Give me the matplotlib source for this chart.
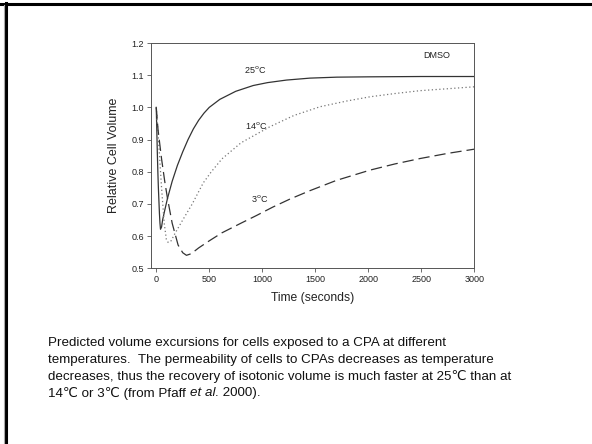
import matplotlib
matplotlib.use('Agg')
import matplotlib.pyplot as plt
from matplotlib.lines import Line2D
from matplotlib.transforms import offset_copy

plt.rcParams['font.family'] = ['Liberation Sans', 'DejaVu Sans']

# values (time in seconds, relative volume)
t_25 = [0, 5, 10, 15, 20, 25, 30, 35, 40, 50, 60, 80, 106, 150, 200, 250, 300,
        350, 400, 450, 500, 600, 750, 915, 1050, 1230, 1450, 1703, 2000, 2500, 3000]
v_25 = [1.0, 0.93, 0.86, 0.80, 0.75, 0.71, 0.67, 0.64, 0.621, 0.628, 0.65, 0.68,
        0.717, 0.77, 0.82, 0.862, 0.9, 0.933, 0.96, 0.982, 1.0, 1.025, 1.05,
        1.068, 1.077, 1.085, 1.091, 1.094, 1.095, 1.096, 1.096]

t_14 = [0, 25, 50, 75, 95, 112, 140, 180, 250, 340, 443, 520, 620, 800, 1073,
        1300, 1545, 1800, 2018, 2250, 2490, 2750, 3000]
v_14 = [1.0, 0.88, 0.75, 0.64, 0.59, 0.58, 0.585, 0.61, 0.65, 0.70, 0.765, 0.80,
        0.84, 0.89, 0.94, 0.975, 1.002, 1.02, 1.033, 1.043, 1.052, 1.058, 1.064]

t_3 = [0, 17, 50, 80, 106, 150, 206, 250, 285, 330, 400, 500, 620, 800, 947,
       1100, 1262, 1450, 1700, 2018, 2250, 2490, 2750, 3000]
v_3 = [1.0, 0.93, 0.84, 0.77, 0.717, 0.64, 0.572, 0.548, 0.54, 0.545, 0.563,
       0.585, 0.61, 0.64, 0.664, 0.69, 0.715, 0.741, 0.773, 0.805, 0.824, 0.841,
       0.857, 0.87]

curve_labels = ['25$^{\\rm o}$C', '14$^{\\rm o}$C', '3$^{\\rm o}$C']
label_pos = [(930, 1.118), (947, 0.945), (978, 0.716)]

fig = plt.figure(figsize=(5.92, 4.44), dpi=100)
ax = fig.add_axes([0.255, 0.396, 0.546, 0.507])

ax.plot(t_25, v_25, color='#333333', lw=0.9, ls='-')
ax.plot(t_14, v_14, color='#777777', lw=0.9, ls=(0, (1, 2)))
ax.plot(t_3, v_3, color='#333333', lw=0.9, ls=(0, (9, 4)))

for lab, (x, y) in zip(curve_labels, label_pos):
    ax.text(x, y, lab, fontsize=6.5, ha='center', va='center', color='#222222')
ax.text(2650, 1.16, 'DMSO', fontsize=6.5, ha='center', va='center', color='#222222')

ax.set_xlim(-50, 3000)
ax.set_ylim(0.5, 1.2)
ax.set_xticks([0, 500, 1000, 1500, 2000, 2500, 3000])
ax.set_yticks([0.5, 0.6, 0.7, 0.8, 0.9, 1.0, 1.1, 1.2])
ax.set_yticklabels(['0.5', '0.6', '0.7', '0.8', '0.9', '1.0', '1.1', '1.2'])
ax.tick_params(labelsize=6.5, length=3, width=0.6, color='#555555', pad=2,
               labelcolor='#222222')
for s in ax.spines.values():
    s.set_linewidth(0.7)
    s.set_color('#555555')

ax.set_xlabel('Time (seconds)', fontsize=8.7, color='#222222', labelpad=6)
ax.set_ylabel('Relative Cell Volume', fontsize=9, color='#222222', labelpad=8)

caption = [
    'Predicted volume excursions for cells exposed to a CPA at different',
    'temperatures.  The permeability of cells to CPAs decreases as temperature',
    'decreases, thus the recovery of isotonic volume is much faster at 25\u2103 than at',
]
cap_x = 48 / 592
cap_fs = 9.6
for i, line in enumerate(caption):
    fig.text(cap_x, 1 - (343 + i * 16.7) / 444, line, fontsize=cap_fs,
             ha='left', va='center', color='#111111')

# last line has italic "et al." -> draw in pieces
y_last = 1 - (343 + 3 * 16.7) / 444
pieces = [('14\u2103 or 3\u2103 (from Pfaff ', 'normal'), ('et al.', 'italic'),
          (' 2000).', 'normal')]
renderer = fig.canvas.get_renderer()
x_px = 0
for txt, style in pieces:
    tr = offset_copy(fig.transFigure, fig=fig, x=x_px * 72 / fig.dpi, y=0, units='points')
    t = fig.text(cap_x, y_last, txt, fontsize=cap_fs, ha='left', va='center',
                 color='#111111', style=style, transform=tr)
    x_px += t.get_window_extent(renderer).width

# slide frame
fig.add_artist(Line2D([0, 1], [1 - 4 / 444, 1 - 4 / 444], transform=fig.transFigure,
                      color='black', lw=2.2))
fig.add_artist(Line2D([6 / 592, 6 / 592], [0, 1 - 3 / 444], transform=fig.transFigure,
                      color='black', lw=2.2))
fig.add_artist(Line2D([4 / 592, 4 / 592], [0, 1 - 5 / 444], transform=fig.transFigure,
                      color='#aaaaaa', lw=0.8))

fig.savefig('out.png', dpi=100)
